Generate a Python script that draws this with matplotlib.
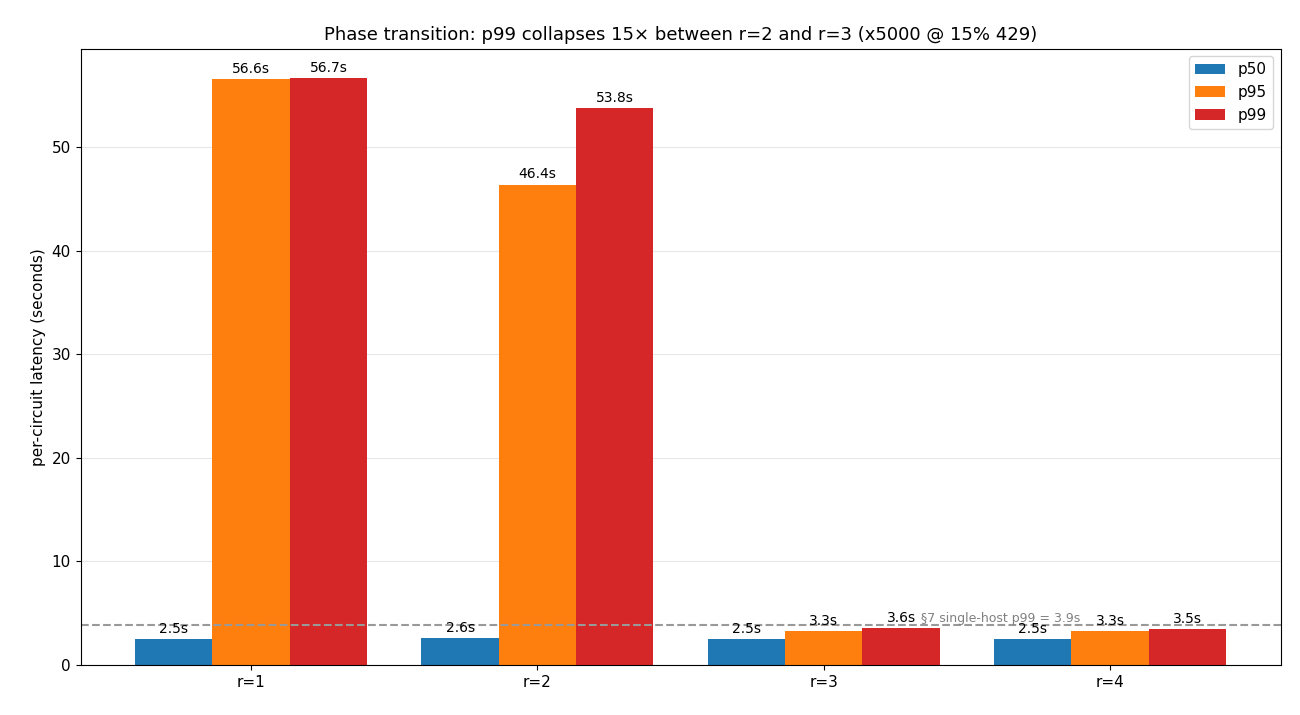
import matplotlib
matplotlib.use("Agg")
import matplotlib.pyplot as plt
import numpy as np

cats = ["r=1", "r=2", "r=3", "r=4"]
p50 = [2.5, 2.6, 2.5, 2.5]
p95 = [56.6, 46.4, 3.3, 3.3]
p99 = [56.7, 53.8, 3.6, 3.5]
ref = 3.9

fig, ax = plt.subplots(figsize=(13, 7.15), dpi=100)
x = np.arange(len(cats))
w = 0.27
for off, vals, col, lab in [(-w, p50, "#1f77b4", "p50"), (0, p95, "#ff7f0e", "p95"), (w, p99, "#d62728", "p99")]:
    bars = ax.bar(x + off, vals, w, color=col, label=lab)
    for b, v in zip(bars, vals):
        ax.text(b.get_x() + b.get_width() / 2, v + 0.3, f"{v}s", ha="center", va="bottom", fontsize=10)
ax.axhline(ref, color="#999999", ls="--", lw=1.5)
ax.text(2.34, ref, f"§7 single-host p99 = {ref}s", color="gray", fontsize=9, va="bottom")
ax.set_xticks(x)
ax.set_xticklabels(cats, fontsize=11)
ax.set_ylabel("per-circuit latency (seconds)", fontsize=11)
ax.set_title("Phase transition: p99 collapses 15× between r=2 and r=3 (x5000 @ 15% 429)", fontsize=13)
ax.grid(axis="y", alpha=0.3)
ax.set_axisbelow(True)
ax.tick_params(axis="y", labelsize=11)
ax.legend(fontsize=11, loc="upper right")
fig.subplots_adjust(left=0.062, right=0.985, top=0.932, bottom=0.07)
fig.savefig("out.png")
